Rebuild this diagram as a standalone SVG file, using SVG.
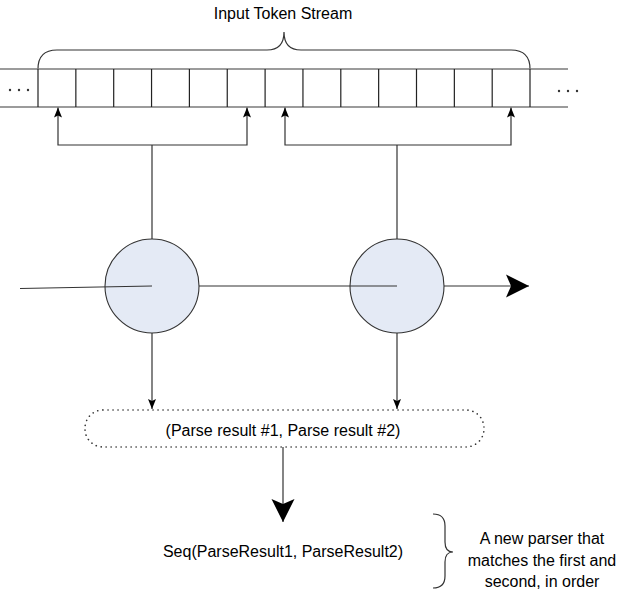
<svg xmlns="http://www.w3.org/2000/svg" width="623" height="591" viewBox="0 0 623 591">
<style>
  text { font-family: "Liberation Sans", Arial, sans-serif; font-size: 16px; fill: #000; }
  .rail { stroke: #7a7a7a; stroke-width: 1.3; fill: none; }
  .cell { stroke: #222; stroke-width: 1.2; fill: none; }
  .ln { stroke: #333; stroke-width: 1.2; fill: none; }
  .circ { fill: #e4eaf5; stroke: #333; stroke-width: 1.1; }
  .dot { fill: #333; }
</style>
<defs>
  <marker id="small" markerUnits="userSpaceOnUse" markerWidth="10" markerHeight="12" refX="10" refY="5" orient="auto">
    <path d="M0,1 L10,5 L0,9 L2,5 Z" fill="#000"/>
  </marker>
  <marker id="big" markerUnits="userSpaceOnUse" markerWidth="24" markerHeight="26" refX="23" refY="12" orient="auto">
    <path d="M0,0.5 L23,12 L0,23.5 L5,12 Z" fill="#000"/>
  </marker>
</defs>

<g id="title">
  <text x="283" y="19" text-anchor="middle">Input Token Stream</text>
  <path class="ln" d="M38,69 Q38,50 57,50 L267,50 Q284,50 284,32 Q284,50 301,50 L511,50 Q530,50 530,69"/>
</g>

<g id="stream">
  <line class="rail" x1="0" y1="69" x2="568" y2="69"/>
  <line class="rail" x1="0" y1="107" x2="568" y2="107"/>
  <path class="cell" d="M38,69V107 M75.85,69V107 M113.7,69V107 M151.55,69V107 M189.4,69V107 M227.25,69V107 M265.1,69V107 M302.95,69V107 M340.8,69V107 M378.65,69V107 M416.5,69V107 M454.35,69V107 M492.2,69V107 M530,69V107"/>
  <circle class="dot" cx="10" cy="90" r="1.2"/>
  <circle class="dot" cx="19" cy="90" r="1.2"/>
  <circle class="dot" cx="28" cy="90" r="1.2"/>
  <circle class="dot" cx="559" cy="91" r="1.2"/>
  <circle class="dot" cx="568" cy="91" r="1.2"/>
  <circle class="dot" cx="577" cy="91" r="1.2"/>
</g>

<g id="parser1">
  <circle class="circ" cx="152" cy="286" r="47"/>
</g>
<g id="parser2">
  <circle class="circ" cx="397" cy="286" r="47"/>
</g>

<g id="result">
  <rect x="85" y="410" width="399" height="37" rx="18" ry="18" fill="none" stroke="#333" stroke-width="1.6" stroke-dasharray="0.1 4.9" stroke-linecap="round"/>
  <text x="283" y="436" text-anchor="middle">(Parse result #1, Parse result #2)</text>
</g>

<g id="seq">
  <text x="283" y="557" text-anchor="middle">Seq(ParseResult1, ParseResult2)</text>
</g>

<g id="note">
  <path class="ln" d="M433,514 Q445,514 445,526 L445,542 Q445,552 453,552 Q445,552 445,562 L445,576 Q445,588 433,588"/>
  <text x="542" y="544" text-anchor="middle">A new parser that</text>
  <text x="542" y="566" text-anchor="middle">matches the first and</text>
  <text x="542" y="587" text-anchor="middle">second, in order</text>
</g>

<g id="connectors">
  <path class="ln" d="M152,239 V145"/>
  <path class="ln" d="M152,145 H58 V107.5" marker-end="url(#small)"/>
  <path class="ln" d="M152,145 H247 V107.5" marker-end="url(#small)"/>
  <path class="ln" d="M397,239 V145"/>
  <path class="ln" d="M397,145 H285 V107.5" marker-end="url(#small)"/>
  <path class="ln" d="M397,145 H511 V107.5" marker-end="url(#small)"/>
  <line class="ln" x1="20" y1="288.5" x2="152" y2="286"/>
  <line class="ln" x1="199" y1="286" x2="397" y2="286"/>
  <line class="ln" x1="444" y1="286" x2="529" y2="286" marker-end="url(#big)"/>
  <line class="ln" x1="152" y1="333" x2="152" y2="409" marker-end="url(#small)"/>
  <line class="ln" x1="397" y1="333" x2="397" y2="409" marker-end="url(#small)"/>
  <line class="ln" x1="283" y1="447" x2="283" y2="522" marker-end="url(#big)"/>
</g>
</svg>
